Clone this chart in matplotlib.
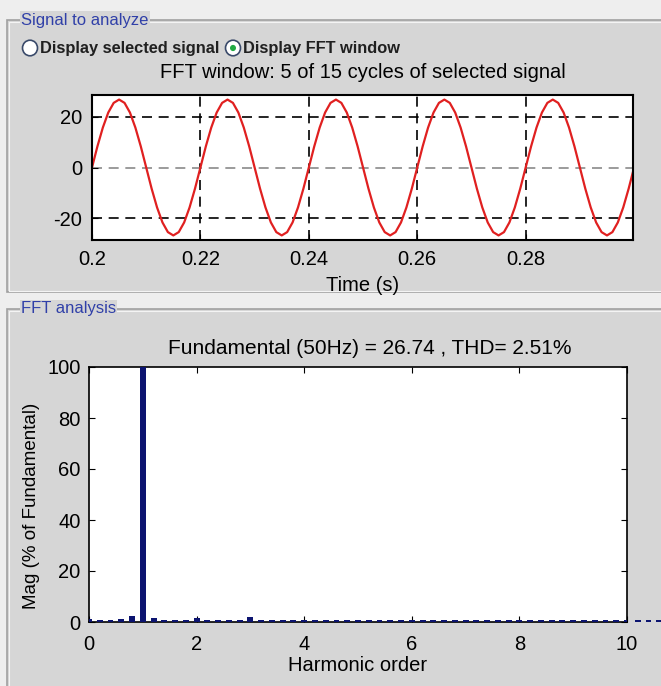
import numpy as np
import matplotlib
matplotlib.use("Agg")
import matplotlib.pyplot as plt
from matplotlib.patches import Rectangle, Circle

plt.rcParams['font.family'] = ['Liberation Sans', 'DejaVu Sans']
plt.rcParams['axes.unicode_minus'] = False

# signal samples over the FFT window, one every 1 ms (0.20 s .. 0.30 s)
one_cycle = [0.0, 8.3, 15.7, 21.6, 25.4, 26.7, 25.4, 21.6, 15.7, 8.3,
             0.0, -8.3, -15.7, -21.6, -25.4, -26.7, -25.4, -21.6, -15.7, -8.3]
signal = one_cycle * 5 + [0.0]
sample_time = np.linspace(0.2, 0.3, len(signal))
time_ticks = [0.2, 0.22, 0.24, 0.26, 0.28]
time_labels = ['0.2', '0.22', '0.24', '0.26', '0.28']
signal_ticks = [-20, 0, 20]

# FFT spectrum (% of fundamental), 0.2 harmonic resolution
harmonic_order = [0.0, 0.2, 0.4, 0.6, 0.8, 1.0, 1.2, 1.4, 1.6, 1.8,
                  2.0, 2.2, 2.4, 2.6, 2.8, 3.0, 3.2, 3.4, 3.6, 3.8,
                  4.0, 4.2, 4.4, 4.6, 4.8, 5.0, 5.2, 5.4, 5.6, 5.8,
                  6.0, 6.2, 6.4, 6.6, 6.8, 7.0, 7.2, 7.4, 7.6, 7.8,
                  8.0, 8.2, 8.4, 8.6, 8.8, 9.0, 9.2, 9.4, 9.6, 9.8,
                  10.0, 10.2, 10.4, 10.6]
magnitude = [1.0, 0.9, 0.9, 1.0, 2.2, 100.0, 1.4, 0.9, 0.8, 0.8,
             1.7, 0.9, 0.8, 0.8, 0.9, 1.8, 0.9, 0.8, 0.8, 0.8,
             0.9, 0.8, 0.8, 0.8, 0.8, 0.9, 0.8, 0.8, 0.8, 0.8,
             0.9, 0.8, 0.8, 0.8, 0.8, 0.8, 0.8, 0.8, 0.8, 0.8,
             0.8, 0.8, 0.8, 0.8, 0.8, 0.8, 0.8, 0.8, 0.8, 0.8,
             0.9, 0.8, 0.8, 0.8]
order_ticks = [0, 2, 4, 6, 8, 10]
mag_ticks = [0, 20, 40, 60, 80, 100]

W, H = 661, 686
bg = '#d6d6d6'
fs = 14.5
fig = plt.figure(figsize=(W / 100, H / 100), dpi=100, facecolor='#eeeeee')


def px(x, y):
    return x / W, 1 - y / H


def panel(x0, y0, x1, y1, title):
    l, b = px(x0, y1)
    fig.patches.append(Rectangle((l, b), (x1 - x0) / W, (y1 - y0) / H,
                                 transform=fig.transFigure, facecolor=bg,
                                 edgecolor='#a0a0a0', lw=1.2, zorder=-2))
    l2, b2 = px(x0 + 1.5, y1 - 1.5)
    fig.patches.append(Rectangle((l2, b2), (x1 - x0 - 3) / W, (y1 - y0 - 3) / H,
                                 transform=fig.transFigure, facecolor='none',
                                 edgecolor='#f4f4f4', lw=0.8, zorder=-1))
    tx, ty = px(x0 + 14, y0)
    fig.text(tx, ty, title, color='#3040a8', fontsize=12, va='center', ha='left',
             bbox=dict(facecolor=bg, edgecolor='none', pad=1.0), zorder=2)


panel(7, 20, 700, 292, 'Signal to analyze')
panel(7, 309, 700, 720, 'FFT analysis')

# radio buttons
for cx, txt, sel in [(30, 'Display selected signal', False), (233, 'Display FFT window', True)]:
    c = px(cx, 48)
    fig.patches.append(Circle(c, 7.5 / W, transform=fig.transFigure, facecolor='white',
                              edgecolor='#3a4a6a', lw=1.2, zorder=3))
    if sel:
        fig.patches.append(Circle(c, 3 / W, transform=fig.transFigure, facecolor='#22aa44',
                                  edgecolor='none', zorder=4))
    tx, ty = px(cx + 10, 48)
    fig.text(tx, ty, txt, fontsize=11.8, fontweight='bold', va='center', ha='left',
             color='#202020')

# top axes: FFT window signal
ax1 = fig.add_axes([92 / W, 1 - 240 / H, 541 / W, 145 / H], zorder=5)
ax1.plot(sample_time, signal, color='#e02020', lw=1.6)
ax1.set_xlim(0.2, 0.2998)
ax1.set_ylim(-28.5, 28.5)
ax1.set_xticks(time_ticks)
ax1.set_xticklabels(time_labels)
ax1.set_yticks(signal_ticks)
ax1.grid(True, color='black', linestyle=(0, (6, 4)), lw=1.2)
ax1.yaxis.get_gridlines()[1].set_color('#8a8a8a')
ax1.tick_params(direction='in', length=4, labelsize=fs, pad=7)
ax1.set_title('FFT window: 5 of 15 cycles of selected signal', fontsize=fs, pad=12.5)
ax1.set_xlabel('Time (s)', fontsize=fs, labelpad=5)
for s in ax1.spines.values():
    s.set_linewidth(1.5)

# bottom axes: FFT spectrum
ax2 = fig.add_axes([89 / W, 1 - 622 / H, 538 / W, 255 / H], zorder=5)
bars = ax2.bar(harmonic_order, magnitude, width=0.11, color='#0c1470', edgecolor='none',
               zorder=3)
for b, h in zip(bars, harmonic_order):
    b.set_clip_on(h <= 10)
ax2.set_xlim(0, 10)
ax2.set_ylim(0, 100)
ax2.set_xticks(order_ticks)
ax2.set_yticks(mag_ticks)
ax2.tick_params(direction='in', length=4, labelsize=fs, pad=9, top=True, right=True)
ax2.tick_params(axis='y', pad=6)
ax2.set_title('Fundamental (50Hz) = 26.74 , THD= 2.51%', fontsize=15, pad=9, x=0.522)
ax2.set_xlabel('Harmonic order', fontsize=fs, labelpad=2)
ax2.set_ylabel('Mag (% of Fundamental)', fontsize=13.5)
ax2.yaxis.set_label_coords(-0.092, 0.455)
for s in ax2.spines.values():
    s.set_linewidth(1.2)

fig.savefig('out.png', dpi=100, facecolor=fig.get_facecolor())
